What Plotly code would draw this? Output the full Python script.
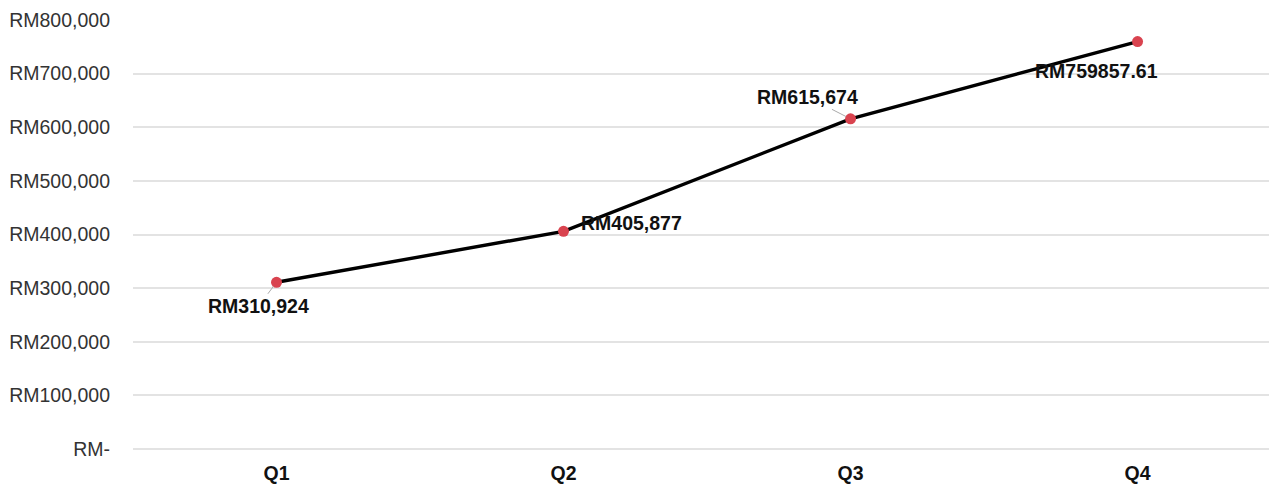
import plotly.graph_objects as go

quarters = ["Q1", "Q2", "Q3", "Q4"]
revenue = [310924, 405877, 615674, 759857.61]
value_labels = ["RM310,924", "RM405,877", "RM615,674", "RM759857.61"]
tick_values = [0, 100000, 200000, 300000, 400000, 500000, 600000, 700000, 800000]
tick_labels = ["RM-", "RM100,000", "RM200,000", "RM300,000", "RM400,000",
               "RM500,000", "RM600,000", "RM700,000", "RM800,000"]

FONT = "Liberation Sans, Arial, sans-serif"

fig = go.Figure()
fig.add_trace(go.Scatter(
    x=quarters, y=revenue, mode="lines+markers",
    line=dict(color="#000000", width=3.4),
    marker=dict(color="#d9434f", size=11),
    hoverinfo="skip", showlegend=False,
))

label_font = dict(family=FONT, size=19.5, color="#111111")
# label placement per point: (arrow?, ax, ay, xshift, yshift)
placements = [
    (True, -18, 24, 0, 0),
    (False, 0, 0, 68, 8),
    (True, -43, -22, 0, 0),
    (False, 0, 0, -41, -29),
]
for q, v, txt, (arrow, ax, ay, xs, ys) in zip(quarters, revenue, value_labels, placements):
    ann = dict(x=q, y=v, xref="x", yref="y", text="<b>%s</b>" % txt,
               font=label_font, showarrow=arrow)
    if arrow:
        ann.update(ax=ax, ay=ay, arrowhead=0, arrowwidth=1, arrowcolor="#aaaaaa", standoff=5)
    else:
        ann.update(xshift=xs, yshift=ys)
    fig.add_annotation(**ann)

fig.update_layout(
    width=1269, height=484,
    margin=dict(l=133, r=0, t=20, b=35),
    paper_bgcolor="white", plot_bgcolor="white",
    font=dict(family=FONT, size=19.5, color="#333333"),
    xaxis=dict(range=[-0.5, 3.458], showgrid=False, showline=False, zeroline=False,
               ticks="", ticklabelstandoff=10,
               tickfont=dict(size=19.5, color="#111111", family=FONT),
               tickprefix="<b>", ticksuffix="</b>"),
    yaxis=dict(range=[0, 800000], tickvals=tick_values, ticktext=tick_labels,
               showgrid=True, gridcolor="#e3e3e3", gridwidth=2,
               zeroline=True, zerolinecolor="#e3e3e3", zerolinewidth=2,
               showline=False, ticks="", ticklabelstandoff=22),
)

fig.write_html("out.html")
